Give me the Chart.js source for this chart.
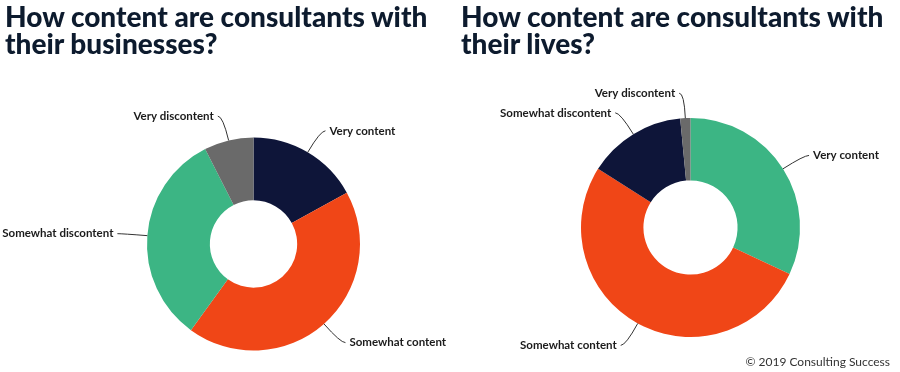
<!DOCTYPE html>
<html>
<head>
<meta charset="utf-8">
<script src="https://cdn.jsdelivr.net/npm/chart.js@4.4.0/dist/chart.umd.min.js"></script>
<style>
  body { margin: 0; width: 900px; height: 372px; background: #fff; position: relative; overflow: hidden; }
  .title { position: absolute; top: 3px; margin: 0; font: 900 28px/27px Lato, sans-serif; color: #0d1b2e; white-space: nowrap; }
  .box { position: absolute; top: 0; width: 450px; height: 372px; }
  .credit { position: absolute; right: 10px; top: 354px; font: 12px Lato, sans-serif; color: #333; }
</style>
</head>
<body>
<div class="box" style="left:0"><canvas id="business" width="450" height="372"></canvas></div>
<div class="box" style="left:450px"><canvas id="lives" width="450" height="372"></canvas></div>
<h2 class="title" style="left:5px">How content are consultants with<br>their businesses?</h2>
<h2 class="title" style="left:461px">How content are consultants with<br>their lives?</h2>
<div class="credit">© 2019 Consulting Success</div>
<script>
const categories = ['Very content', 'Somewhat content', 'Somewhat discontent', 'Very discontent'];
const businessValues = [17, 43, 32.5, 7.5];
const livesValues = [32, 52, 14.5, 1.5];

const navy = '#0e1539';
const orange = '#f04617';
const green = '#3cb584';
const grey = '#6a6a6a';
const businessColors = [navy, orange, green, grey];
const livesColors = [green, orange, navy, grey];

// leader lines + labels around each slice
const calloutPlugin = {
  id: 'callouts',
  afterDatasetsDraw(chart) {
    const ctx = chart.ctx;
    const meta = chart.getDatasetMeta(0);
    ctx.save();
    ctx.font = 'bold 11.5px Lato, sans-serif';
    ctx.fillStyle = '#1b1b1b';
    ctx.strokeStyle = '#333';
    ctx.lineWidth = 1;
    ctx.textBaseline = 'middle';
    meta.data.forEach((arc, i) => {
      const p = arc.getProps(['x', 'y', 'startAngle', 'endAngle', 'outerRadius'], true);
      const mid = (p.startAngle + p.endAngle) / 2;
      const cos = Math.cos(mid), sin = Math.sin(mid);
      const sx = p.x + cos * p.outerRadius, sy = p.y + sin * p.outerRadius;
      const cx = p.x + cos * (p.outerRadius + 25), cy = p.y + sin * (p.outerRadius + 25);
      const side = cos >= 0 ? 1 : -1;
      const ex = cx + side * 5;
      ctx.beginPath();
      ctx.moveTo(sx, sy);
      ctx.quadraticCurveTo(cx, cy, ex, cy);
      ctx.stroke();
      ctx.textAlign = side > 0 ? 'left' : 'right';
      ctx.fillText(chart.data.labels[i], ex + side * 4, cy);
    });
    ctx.restore();
  }
};

function makeDoughnut(id, values, colors, cutout, padding) {
  return new Chart(document.getElementById(id).getContext('2d'), {
    type: 'doughnut',
    data: {
      labels: categories,
      datasets: [{
        data: values,
        backgroundColor: colors,
        borderWidth: 0
      }]
    },
    options: {
      responsive: false,
      animation: false,
      cutout: cutout,
      layout: { padding: padding },
      plugins: {
        legend: { display: false },
        tooltip: { enabled: false }
      }
    },
    plugins: [calloutPlugin]
  });
}

makeDoughnut('business', businessValues, businessColors, '41%', { top: 137.5, bottom: 21.5, left: 147, right: 90 });
makeDoughnut('lives', livesValues, livesColors, '43%', { top: 118, bottom: 35, left: 131, right: 100 });
</script>
</body>
</html>
